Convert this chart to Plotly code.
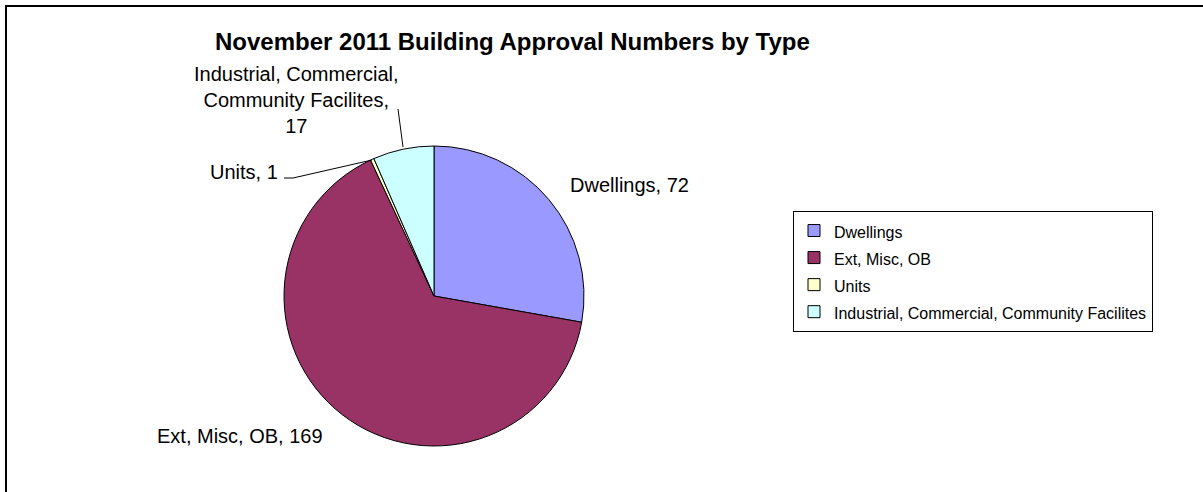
import plotly.graph_objects as go

# ---------------- data ----------------
categories = ["Dwellings", "Ext, Misc, OB", "Units",
              "Industrial, Commercial, Community Facilites"]
values = [72, 169, 1, 17]
slice_colors = ["#9999FF", "#993366", "#FFFFCC", "#CCFFFF"]
chart_title = "November 2011 Building Approval Numbers by Type"

# ---------------- layout constants ----------------
W, H = 1203, 492
FONT = "Liberation Sans, Arial, sans-serif"
CX, CY, R = 434, 296, 150  # pie centre / radius in pixels


def px(x):
    return x / W


def py(y):
    return 1 - y / H


# data label texts built from the data
def label_text(cat, val):
    if len(cat) > 25:
        return cat.replace(", Community", ",<br>Community") + ",<br>" + str(val)
    return f"{cat}, {val}"


label_texts = [label_text(c, v) for c, v in zip(categories, values)]

# label positions (pixels): x, y, xanchor
label_pos = [
    (568, 185, "left"),
    (155, 436, "left"),
    (280, 172, "right"),
    (296, 100, "center"),
]

# leader lines (pixels)
leaders = [
    [(284, 178), (293, 178), (372, 160)],   # Units
    [(398, 109), (403, 147)],               # Industrial
]

fig = go.Figure()
fig.add_trace(go.Pie(
    labels=[f"<span style='font-size:16px'>{c}</span>" for c in categories],
    values=values,
    sort=False,
    direction="clockwise",
    rotation=0,
    marker=dict(colors=slice_colors, line=dict(color="black", width=1)),
    textinfo="none",
    hoverinfo="label+value",
    domain=dict(x=[px(CX - R), px(CX + R)], y=[py(CY + R), py(CY - R)]),
    showlegend=True,
))

annotations = []
for txt, (x, y, xa) in zip(label_texts, label_pos):
    annotations.append(dict(
        x=px(x), y=py(y), xref="paper", yref="paper",
        xanchor=xa, yanchor="middle", align="center",
        text=txt, showarrow=False,
        font=dict(family=FONT, size=20, color="black"),
    ))

shapes = []
for pts in leaders:
    path = "M " + " L ".join(f"{px(x)} {py(y)}" for x, y in pts)
    shapes.append(dict(type="path", xref="paper", yref="paper", path=path,
                       line=dict(color="black", width=1)))
# outer chart frame (top and left edges visible)
shapes.append(dict(type="line", xref="paper", yref="paper",
                   x0=px(5), x1=px(1203), y0=py(6), y1=py(6),
                   line=dict(color="black", width=2)))
shapes.append(dict(type="line", xref="paper", yref="paper",
                   x0=px(6), x1=px(6), y0=py(6), y1=py(492),
                   line=dict(color="black", width=2)))

fig.update_layout(
    width=W, height=H,
    margin=dict(l=0, r=0, t=0, b=0),
    paper_bgcolor="white",
    plot_bgcolor="white",
    title=dict(text=f"<b>{chart_title}</b>", x=px(215), xanchor="left",
               y=py(42), yanchor="middle",
               font=dict(family=FONT, size=24, color="black")),
    legend=dict(x=px(793), xanchor="left", y=py(211), yanchor="top",
                bordercolor="black", borderwidth=1, bgcolor="white",
                font=dict(family=FONT, size=18.5, color="black"),
                traceorder="normal"),
    annotations=annotations,
    shapes=shapes,
)

fig.write_html("out.html")
